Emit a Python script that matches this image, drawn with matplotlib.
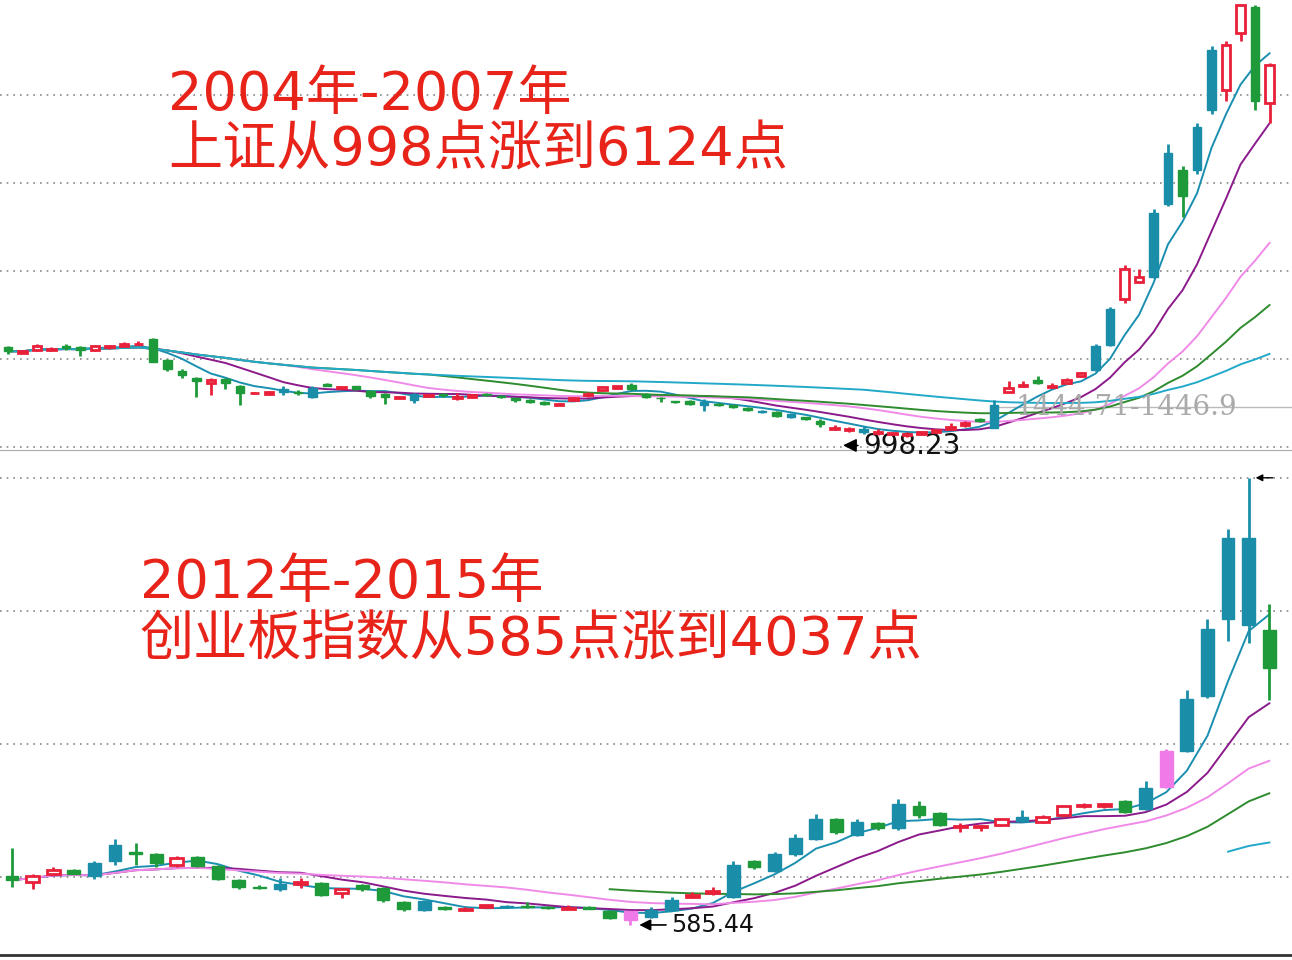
import matplotlib
matplotlib.use("Agg")
import matplotlib.pyplot as plt
import pandas as pd

plt.rcParams['font.family'] = ['DejaVu Sans', 'Noto Sans CJK SC']

# ---------- top panel: Shanghai Composite 2004-2007 ----------
top_kind = list("grrrggrrrr" "ggggrggrrt" "gtgrgggrtr" "grrgggggrr" "rrrgggggtg"
                "ggtgtggrrt" "rrrrrrrgtr" "rgrrrttrrt" "tgttrrgr")
top_open = [2140,2075,2100,2110,2150,2140,2100,2140,2155,2170,2230,1990,1860,1780,1720,1770,1690,1600,1590,1650,
            1620,1660,1710,1660,1680,1630,1590,1540,1590,1570,1590,1550,1560,1590,1570,1540,1520,1500,1470,1520,
            1580,1640,1660,1700,1590,1550,1510,1510,1500,1480,1460,1430,1400,1380,1360,1320,1280,1190,1170,1190,
            1140,1130,1110,1130,1150,1190,1230,1300,1200,1620,1680,1760,1670,1720,1800,1870,2160,2700,2900,2950,
            3800,4200,4200,4900,5130,5800,6100,4980]
top_close = [2090,2090,2150,2120,2130,2100,2150,2155,2180,2180,1960,1880,1810,1740,1760,1720,1600,1600,1620,1610,
             1600,1560,1680,1670,1650,1570,1560,1560,1520,1580,1575,1560,1580,1580,1560,1520,1500,1480,1480,1550,
             1590,1670,1680,1650,1560,1540,1500,1480,1460,1460,1440,1410,1380,1340,1320,1300,1240,1200,1180,1150,
             1150,1140,1130,1145,1170,1210,1250,1280,1460,1660,1700,1720,1680,1760,1840,2150,2580,3050,2950,3700,
             4400,3900,4700,5600,5660,6124,5000,5420]
top_high = [2150,2100,2170,2135,2180,2150,2160,2165,2195,2210,2240,2000,1880,1790,1780,1780,1700,1610,1630,1690,
            1640,1680,1720,1690,1690,1640,1600,1570,1600,1590,1600,1600,1590,1600,1575,1550,1530,1510,1490,1560,
            1610,1690,1690,1720,1600,1560,1515,1520,1530,1490,1470,1440,1410,1390,1370,1330,1300,1230,1210,1220,
            1180,1150,1145,1160,1190,1250,1280,1310,1520,1740,1740,1800,1720,1780,1850,2170,2600,3100,3050,3750,
            4500,4250,4750,5650,5700,6124,6124,5450]
top_low = [2060,2070,2095,2090,2110,2040,2095,2120,2150,2165,1960,1860,1780,1560,1580,1650,1470,1590,1580,1580,
           1580,1540,1680,1660,1640,1550,1480,1540,1490,1560,1560,1520,1550,1570,1545,1500,1490,1470,1460,1510,
           1560,1630,1650,1640,1540,1500,1490,1470,1400,1450,1430,1390,1370,1330,1310,1290,1210,1170,1150,1130,
           1120,1100,1090,1110,1140,1180,1210,1270,1200,1620,1670,1710,1660,1710,1790,1860,2150,2650,2880,2940,
           3780,3650,4150,4850,5000,5700,4900,4750]

# ---------- bottom panel: ChiNext 2012-2015 ----------
bot_kind = list("grrgttggrg" "gggtrgrggg" "tgrrtggrgg" "pttrrtgttt" "gtgtggrrrt" "rrrrgtpttt" "tg")
bot_open = [960,920,980,1010,1060,1200,1150,1130,1050,1110,1040,930,875,900,900,910,830,890,870,760,
            770,720,700,720,735,735,725,710,720,690,690,650,700,800,830,800,1080,1000,1130,1250,
            1400,1280,1370,1330,1500,1450,1340,1340,1360,1390,1380,1430,1500,1500,1540,1480,1650,1930,2350,2950,
            2900,2860]
bot_close = [932,960,1010,980,960,1080,1130,1060,1100,1040,940,880,870,860,920,820,860,860,780,710,
             700,710,710,740,720,720,715,715,710,640,620,700,780,820,850,1050,1030,1130,1260,1400,
             1300,1380,1330,1520,1430,1360,1350,1350,1400,1420,1420,1500,1500,1520,1460,1640,1930,2330,2870,3570,
             3570,2570]
bot_high = [1180,975,1030,1020,1075,1250,1220,1140,1120,1120,1050,940,890,950,950,920,870,900,880,770,
            780,735,720,740,740,760,730,740,730,700,690,720,800,840,880,1080,1090,1150,1290,1440,
            1410,1400,1380,1560,1540,1460,1370,1360,1410,1470,1430,1510,1530,1530,1550,1700,1940,2400,2950,3640,
            4037,3060]
bot_low = [880,860,970,975,940,1050,1050,1030,1030,1030,930,860,860,850,870,810,790,850,760,690,
           690,700,695,715,715,715,705,705,705,630,585,640,690,790,820,790,1020,990,1120,1240,
           1290,1270,1320,1320,1410,1350,1300,1310,1350,1380,1370,1420,1490,1490,1450,1470,1640,1920,2340,2780,
           2760,2320]

top_grid = [975, 2000, 3025, 4050, 5075]
bot_grid = [956, 1982, 3009, 4036]
ma_windows = [5, 10, 20, 30, 60]
ma_colors = ['#1a8fb0', '#8b1a8b', '#f08ae8', '#2e8b2e', '#22a9c9']

colmap = {'r': '#e8203a', 'g': '#1e9a3a', 't': '#1a8ea8', 'p': '#f07ae8'}
TXT = '#e8231a'


def draw(ax, O, C, H, L, K, width, min_full):
    for i in range(len(O)):
        col = colmap[K[i]]
        lo, hi = min(O[i], C[i]), max(O[i], C[i])
        ax.vlines(i, L[i], lo, color=col, lw=2, zorder=3)
        ax.vlines(i, hi, H[i], color=col, lw=2, zorder=3)
        h = max(hi - lo, 8)
        if K[i] == 'r':
            ax.bar(i, h, width, bottom=lo, facecolor='white', edgecolor=col, lw=2, zorder=4)
        else:
            ax.bar(i, h, width, bottom=lo, facecolor=col, edgecolor=col, lw=1, zorder=4)
    s = pd.Series(C, dtype=float)
    for w, c in zip(ma_windows, ma_colors):
        mp = 1 if w <= min_full else w
        ax.plot(range(len(C)), s.rolling(w, min_periods=mp).mean(), color=c, lw=1.4, zorder=2)


fig = plt.figure(figsize=(12.92, 9.6), dpi=100)
ax1 = fig.add_axes([0, 1 - 450 / 960, 1, 450 / 960])
ax2 = fig.add_axes([0, 5 / 960, 1, 500 / 960])

draw(ax1, top_open, top_close, top_high, top_low, top_kind, 0.6, 60)
ax1.set_xlim(-0.55, 88.55)
ax1.set_ylim(940, 6182)
for g in top_grid:
    ax1.axhline(g, color='#888888', ls=(0, (1, 3)), lw=1.2, zorder=1)
ax1.text(0.13, 0.79, '2004年-2007年', transform=ax1.transAxes, color=TXT, fontsize=39,
         va='center', fontweight='medium')
ax1.text(0.13, 0.665, '上证从998点涨到6124点', transform=ax1.transAxes, color=TXT, fontsize=39,
         va='center', fontweight='medium')
ax1.annotate('998.23', xy=(57.4, 995), xytext=(59.0, 985), fontsize=20, color='#111111', va='center',
             arrowprops=dict(arrowstyle='-|>', color='black', lw=1.2))
ax1.text(69.5, 1430, '1444.71-1446.9', fontsize=20, color='#aaaaaa', family='DejaVu Serif', va='center')
ax1.axhline(1440, xmin=0.77, xmax=1, color='#bbbbbb', lw=1, zorder=1)

draw(ax2, bot_open, bot_close, bot_high, bot_low, bot_kind, 0.62, 20)
ax2.set_xlim(-0.58, 62.1)
ax2.set_ylim(353, 4213)
for g in bot_grid:
    ax2.axhline(g, color='#888888', ls=(0, (1, 3)), lw=1.2, zorder=1)
ax2.text(0.108, 0.745, '2012年-2015年', transform=ax2.transAxes, color=TXT, fontsize=39,
         va='center', fontweight='medium')
ax2.text(0.108, 0.63, '创业板指数从585点涨到4037点', transform=ax2.transAxes, color=TXT, fontsize=39,
         va='center', fontweight='medium')
ax2.annotate('585.44', xy=(30.3, 585), xytext=(32.0, 585), fontsize=17, color='#111111', va='center',
             arrowprops=dict(arrowstyle='-|>', color='black', lw=1.2))
ax2.annotate('', xy=(60.2, 4037), xytext=(61.3, 4037),
             arrowprops=dict(arrowstyle='-|>', color='black', lw=1))

for ax in (ax1, ax2):
    ax.set_xticks([]); ax.set_yticks([])
    for sp in ax.spines.values():
        sp.set_visible(False)
ax1.spines['bottom'].set_visible(True); ax1.spines['bottom'].set_color('#aaaaaa')
ax2.spines['bottom'].set_visible(True); ax2.spines['bottom'].set_color('#333333'); ax2.spines['bottom'].set_linewidth(2)

fig.savefig('out.png', dpi=100)
